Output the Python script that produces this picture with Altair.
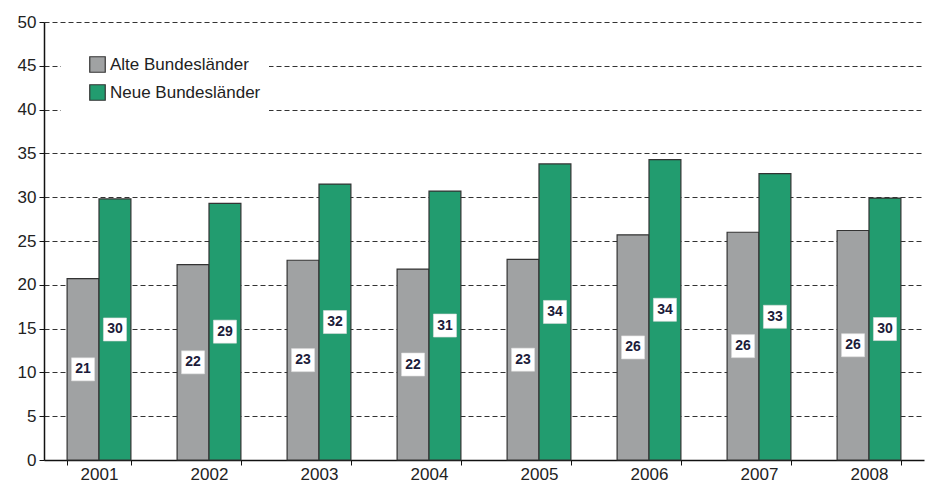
import altair as alt
import pandas as pd

years = ["2001", "2002", "2003", "2004", "2005", "2006", "2007", "2008"]
series = ["Alte Bundesländer", "Neue Bundesländer"]
alte_values = [20.7, 22.3, 22.8, 21.8, 22.9, 25.7, 26.0, 26.2]
neue_values = [29.8, 29.3, 31.5, 30.7, 33.8, 34.3, 32.7, 29.9]
alte_labels = [21, 22, 23, 22, 23, 26, 26, 26]
neue_labels = [30, 29, 32, 31, 34, 34, 33, 30]
colors = ["#A0A2A3", "#229C6F"]
y_ticks = list(range(0, 51, 5))

rows = []
for i, y in enumerate(years):
    rows.append({"year": y, "series": series[0], "value": alte_values[i], "label": str(alte_labels[i])})
    rows.append({"year": y, "series": series[1], "value": neue_values[i], "label": str(neue_labels[i])})
df = pd.DataFrame(rows)

FONT = "Liberation Sans"

base = alt.Chart(df).transform_calculate(mid="datum.value / 2").encode(
    x=alt.X("year:N", sort=years, title=None,
            scale=alt.Scale(paddingInner=0.42, paddingOuter=0.21)),
    xOffset=alt.XOffset("series:N", sort=series,
                        scale=alt.Scale(paddingInner=0, paddingOuter=0)),
)

bars = base.mark_bar(stroke="#333333", strokeWidth=1.2).encode(
    y=alt.Y("value:Q", title=None, scale=alt.Scale(domain=[0, 50], nice=False)),
    fill=alt.Fill("series:N", sort=series,
                  scale=alt.Scale(domain=series, range=colors),
                  legend=alt.Legend(title=None, orient="none", legendX=17, legendY=26,
                                    fillColor="white", padding=8, symbolOffset=20,
                                    symbolType="square", symbolSize=240,
                                    symbolStrokeColor="#333333", symbolStrokeWidth=1.2,
                                    labelFont=FONT, labelFontSize=17, labelColor="#222222",
                                    labelOffset=4, rowPadding=7)),
)

boxes = base.mark_square(size=530, color="white", opacity=1, stroke="#dddddd", strokeWidth=0.6).encode(
    y=alt.Y("mid:Q", title=None),
)

texts = base.mark_text(font=FONT, fontWeight="bold", fontSize=14, color="#1c1c3a", baseline="middle").encode(
    y=alt.Y("mid:Q", title=None),
    text="label:N",
)

chart = alt.layer(bars, boxes, texts).properties(
    width=880, height=438,
    autosize=alt.AutoSizeParams(type="none"),
    padding={"left": 36, "top": 14, "right": 2, "bottom": 23},
).configure_view(stroke=None).configure_axisY(
    values=y_ticks, grid=True, gridDash=[5, 3], gridColor="#333333", gridWidth=1,
    domainColor="#111111", domainWidth=1.5, tickColor="#111111", tickSize=5,
    labelFont=FONT, labelFontSize=17, labelColor="#222222", labelPadding=3,
).configure_axisX(
    labelAngle=0, tickBand="extent", grid=False, domainColor="#111111", domainWidth=1.5,
    tickColor="#111111", tickSize=5, labelFont=FONT, labelFontSize=17,
    labelColor="#222222", labelPadding=1,
)

chart.save("out.html", embed_options={"renderer": "svg", "actions": False})
